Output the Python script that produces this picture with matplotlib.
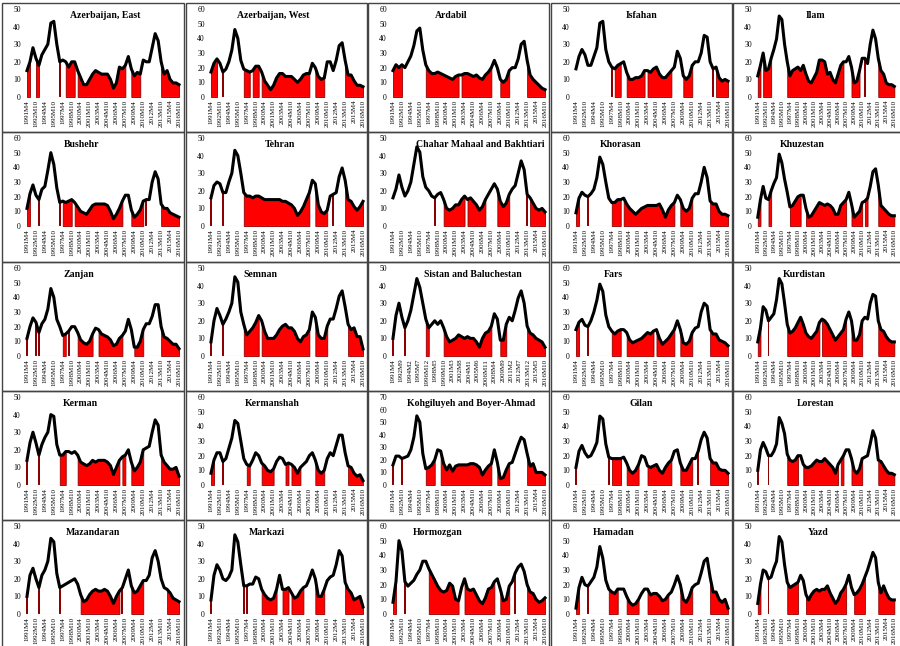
import matplotlib
matplotlib.use('Agg')
import matplotlib.pyplot as plt
from matplotlib.patches import Rectangle
import numpy as np

# half-yearly readings 1991M4, 1991M10, ... 2016M10 (52 points)
months = np.arange(52) * 6

tick_labels = ['1991M4', '1992M10', '1994M4', '1995M10', '1997M4', '1998M10',
               '2000M4', '2001M10', '2003M4', '2004M10', '2006M4', '2007M10',
               '2009M4', '2010M10', '2012M4', '2013M10', '2015M4', '2016M10']
sistan_labels = ['1991M4', '1992M9', '1994M2', '1995M7', '1996M12', '1998M5',
                 '1999M10', '2001M3', '2002M8', '2004M1', '2005M6', '2006M11',
                 '2008M4', '2009M9', '2011M2', '2012M7', '2013M12', '2015M5', '2016M10']

names = ['Azerbaijan, East', 'Azerbaijan, West', 'Ardabil', 'Isfahan', 'Ilam',
         'Bushehr', 'Tehran', 'Chahar Mahaal and Bakhtiari', 'Khorasan', 'Khuzestan',
         'Zanjan', 'Semnan', 'Sistan and Baluchestan', 'Fars', 'Kurdistan',
         'Kerman', 'Kermanshah', 'Kohgiluyeh and Boyer-Ahmad', 'Gilan', 'Lorestan',
         'Mazandaran', 'Markazi', 'Hormozgan', 'Hamadan', 'Yazd']
ytops = [50, 60, 60, 50, 50,
         60, 50, 50, 60, 60,
         60, 50, 50, 60, 50,
         50, 60, 70, 60, 60,
         50, 50, 60, 60, 50]

az_east = [15, 20, 28, 22, 18, 24, 27, 30, 42, 43, 30, 20, 21, 20, 17, 20, 20, 15, 11, 7,
           7, 10, 13, 15, 14, 13, 13, 13, 10, 5, 8, 17, 16, 18, 23, 16, 12, 14, 13, 21,
           20, 20, 28, 36, 32, 20, 13, 15, 10, 8, 8, 7]
az_west = [17, 23, 26, 23, 17, 19, 24, 32, 46, 40, 25, 19, 18, 17, 18, 21, 21, 17, 11, 8,
           5, 8, 13, 16, 16, 14, 14, 14, 12, 10, 12, 15, 16, 16, 23, 20, 14, 12, 13, 24,
           24, 18, 25, 35, 37, 25, 15, 15, 11, 8, 8, 7]
ardabil = [18, 22, 20, 22, 20, 24, 28, 35, 45, 47, 32, 22, 18, 16, 16, 17, 16, 15, 14, 13,
           12, 14, 15, 15, 16, 16, 15, 14, 15, 13, 12, 15, 17, 20, 25, 20, 12, 10, 12, 18,
           20, 20, 26, 36, 38, 25, 15, 12, 10, 8, 6, 5]
isfahan = [16, 23, 27, 24, 18, 18, 23, 28, 42, 43, 27, 20, 17, 16, 18, 19, 20, 14, 10, 10,
           11, 11, 12, 15, 15, 14, 16, 17, 13, 11, 11, 13, 15, 17, 26, 22, 12, 10, 12, 18,
           20, 20, 25, 35, 34, 20, 16, 17, 11, 9, 10, 9]
ilam = [12, 18, 25, 15, 16, 22, 27, 33, 46, 44, 30, 20, 12, 15, 16, 17, 15, 18, 13, 9,
        8, 11, 14, 21, 21, 20, 13, 14, 10, 8, 13, 18, 20, 20, 23, 17, 8, 9, 15, 22,
        22, 19, 30, 38, 33, 22, 15, 13, 8, 7, 7, 6]
bushehr = [12, 22, 28, 21, 18, 25, 27, 38, 50, 42, 26, 16, 17, 16, 17, 18, 16, 13, 10, 9,
           8, 11, 14, 15, 15, 15, 15, 14, 10, 5, 8, 12, 17, 21, 21, 11, 6, 8, 11, 17,
           18, 18, 30, 37, 32, 15, 12, 12, 9, 8, 7, 6]
tehran = [16, 23, 25, 24, 19, 19, 25, 30, 43, 40, 30, 19, 17, 17, 16, 17, 17, 16, 15, 15,
          15, 15, 15, 15, 14, 14, 13, 12, 10, 6, 8, 11, 15, 19, 26, 24, 12, 8, 7, 9,
          17, 18, 19, 28, 33, 26, 15, 14, 11, 9, 11, 14]
chahar = [16, 21, 29, 22, 17, 20, 25, 35, 45, 42, 28, 22, 20, 17, 16, 18, 19, 15, 10, 9,
          10, 12, 12, 15, 17, 15, 16, 14, 12, 9, 11, 15, 18, 21, 24, 21, 14, 11, 13, 18,
          21, 23, 30, 37, 32, 18, 16, 13, 10, 9, 10, 8]
khorasan = [9, 19, 23, 21, 20, 22, 25, 33, 47, 42, 30, 19, 16, 16, 18, 18, 19, 15, 12, 10,
            8, 10, 12, 13, 14, 14, 14, 14, 15, 11, 6, 11, 14, 16, 21, 18, 12, 10, 12, 19,
            22, 22, 30, 40, 33, 17, 15, 15, 10, 8, 8, 7]
khuzestan = [6, 18, 27, 19, 18, 24, 29, 33, 49, 43, 32, 23, 13, 14, 17, 20, 21, 21, 12, 6,
             7, 10, 13, 16, 15, 14, 15, 14, 12, 8, 8, 14, 16, 18, 23, 15, 6, 8, 10, 16,
             17, 19, 27, 37, 39, 28, 14, 12, 10, 8, 7, 7]
zanjan = [12, 20, 26, 23, 16, 22, 25, 32, 46, 40, 25, 20, 14, 15, 17, 20, 20, 16, 11, 9,
          8, 10, 15, 19, 18, 15, 14, 13, 11, 7, 8, 12, 14, 17, 25, 18, 6, 6, 10, 18,
          22, 22, 27, 35, 35, 20, 13, 12, 10, 8, 8, 5]
semnan = [8, 20, 27, 23, 18, 21, 25, 30, 45, 42, 25, 18, 12, 14, 16, 19, 23, 20, 14, 10,
          10, 10, 12, 15, 17, 18, 16, 16, 14, 10, 8, 11, 12, 15, 25, 22, 12, 10, 10, 17,
          21, 21, 27, 34, 37, 28, 18, 15, 16, 11, 11, 4]
sistan = [10, 23, 30, 22, 16, 20, 26, 35, 44, 39, 30, 21, 16, 18, 20, 18, 20, 16, 11, 8,
          9, 10, 12, 11, 10, 11, 10, 10, 8, 5, 10, 13, 14, 17, 24, 21, 9, 9, 18, 22,
          20, 26, 33, 37, 30, 17, 13, 12, 10, 9, 8, 5]
fars = [18, 23, 25, 21, 20, 24, 30, 38, 49, 44, 28, 20, 17, 15, 17, 18, 18, 16, 11, 9,
        10, 11, 12, 14, 16, 15, 17, 18, 12, 8, 10, 12, 15, 18, 24, 18, 9, 8, 10, 16,
        19, 20, 30, 36, 34, 18, 15, 15, 11, 10, 9, 7]
kurdistan = [8, 16, 28, 26, 20, 22, 24, 32, 44, 41, 30, 18, 13, 14, 16, 19, 22, 18, 13, 11,
             10, 12, 14, 19, 21, 20, 18, 15, 12, 9, 11, 13, 15, 21, 25, 20, 9, 9, 12, 20,
             22, 21, 30, 35, 34, 20, 15, 14, 11, 9, 8, 8]
kerman = [14, 24, 30, 24, 17, 23, 27, 30, 40, 39, 23, 17, 17, 19, 19, 18, 19, 17, 13, 12,
          11, 12, 14, 13, 14, 14, 14, 13, 11, 6, 10, 14, 16, 17, 20, 13, 8, 10, 13, 20,
          21, 22, 30, 37, 34, 17, 13, 11, 9, 9, 10, 5]
kermanshah = [8, 17, 22, 22, 16, 18, 25, 32, 44, 42, 30, 18, 14, 13, 17, 22, 20, 15, 13, 10,
              9, 11, 16, 19, 18, 14, 15, 14, 12, 8, 12, 14, 16, 20, 22, 17, 10, 8, 10, 18,
              22, 20, 27, 34, 34, 22, 13, 12, 8, 6, 7, 3]
kohgiluyeh = [16, 23, 23, 21, 22, 23, 28, 38, 55, 50, 25, 13, 14, 16, 20, 28, 27, 17, 12, 16,
              11, 15, 16, 16, 16, 16, 17, 17, 16, 14, 8, 12, 15, 17, 28, 18, 5, 6, 12, 17,
              18, 25, 32, 38, 36, 25, 15, 17, 10, 10, 10, 8]
gilan = [12, 23, 27, 22, 19, 20, 24, 29, 47, 45, 28, 19, 18, 18, 18, 18, 19, 15, 10, 8,
         10, 14, 20, 19, 13, 12, 13, 14, 10, 8, 12, 15, 17, 23, 24, 15, 10, 10, 14, 18,
         18, 23, 31, 36, 32, 18, 15, 15, 11, 10, 10, 8]
lorestan = [10, 24, 29, 25, 20, 20, 23, 28, 46, 42, 35, 21, 17, 16, 17, 20, 20, 14, 12, 12,
            13, 15, 17, 16, 16, 18, 16, 14, 12, 8, 14, 17, 20, 24, 24, 18, 10, 8, 11, 18,
            19, 20, 28, 37, 32, 17, 16, 13, 10, 8, 8, 7]
mazandaran = [10, 22, 26, 20, 15, 22, 25, 30, 43, 41, 23, 15, 16, 17, 18, 19, 20, 17, 11, 7,
              8, 11, 13, 14, 13, 13, 14, 13, 10, 6, 10, 13, 15, 20, 25, 16, 12, 13, 16, 19,
              19, 22, 32, 36, 30, 20, 15, 14, 12, 9, 8, 7]
markazi = [8, 22, 28, 25, 20, 19, 21, 25, 45, 41, 28, 16, 16, 17, 17, 21, 20, 14, 11, 9,
           8, 9, 14, 22, 14, 14, 15, 12, 9, 10, 13, 15, 16, 20, 25, 20, 10, 10, 14, 19,
           21, 22, 28, 36, 33, 18, 14, 12, 8, 9, 10, 4]
hormozgan = [8, 22, 50, 43, 22, 19, 21, 23, 27, 30, 36, 36, 31, 27, 23, 19, 16, 15, 16, 21,
             19, 10, 9, 18, 24, 17, 16, 17, 13, 9, 7, 11, 17, 18, 22, 24, 17, 9, 10, 19,
             22, 28, 32, 34, 29, 20, 15, 14, 10, 8, 9, 11]
hamadan = [4, 18, 25, 20, 19, 22, 25, 32, 46, 38, 23, 17, 15, 14, 17, 17, 17, 12, 8, 6,
           7, 10, 14, 17, 17, 13, 14, 14, 12, 9, 10, 13, 15, 20, 26, 20, 10, 8, 12, 18,
           20, 21, 28, 36, 38, 25, 15, 15, 10, 8, 10, 4]
yazd = [6, 17, 25, 24, 20, 21, 26, 30, 44, 41, 28, 18, 15, 16, 17, 18, 22, 19, 11, 8,
        11, 13, 14, 13, 14, 14, 16, 12, 9, 6, 8, 12, 14, 17, 22, 15, 11, 12, 14, 17,
        21, 25, 30, 35, 32, 18, 12, 16, 12, 9, 8, 8]

# red regimes as (first, last) half-year index
az_east_red = [(0, 1), (3, 4), (11, 11), (13, 16), (17, 33), (35, 38), (45, 51)]
az_west_red = [(0, 2), (4, 4), (11, 13), (14, 16), (17, 33), (35, 38), (45, 51)]
ardabil_red = [(0, 3), (11, 22), (23, 33), (36, 39), (45, 51)]
isfahan_red = [(12, 12), (13, 15), (17, 23), (24, 32), (36, 39), (46, 46), (47, 51)]
ilam_red = [(0, 1), (2, 5), (11, 32), (35, 38), (40, 40), (45, 51)]
bushehr_red = [(0, 1), (4, 4), (11, 11), (12, 15), (16, 32), (35, 39), (40, 40), (45, 51)]
tehran_red = [(0, 0), (4, 4), (11, 33), (35, 39), (41, 41), (45, 51)]
chahar_red = [(14, 14), (17, 24), (25, 31), (35, 39), (45, 45), (46, 51)]
khorasan_red = [(0, 1), (4, 4), (12, 15), (16, 33), (35, 39), (45, 51)]
khuzestan_red = [(0, 1), (4, 5), (12, 16), (18, 33), (35, 39), (40, 41), (45, 51)]
zanjan_red = [(0, 0), (3, 3), (4, 4), (12, 13), (14, 14), (17, 22), (24, 32), (36, 39), (45, 51)]
semnan_red = [(0, 0), (4, 4), (11, 16), (17, 33), (35, 39), (46, 51)]
sistan_red = [(0, 0), (4, 4), (11, 12), (17, 33), (36, 38), (45, 51)]
fars_red = [(0, 1), (4, 4), (12, 15), (17, 26), (27, 33), (35, 39), (45, 51)]
kurdistan_red = [(0, 1), (4, 4), (11, 23), (24, 33), (35, 39), (45, 51)]
kerman_red = [(0, 0), (4, 4), (11, 13), (17, 31), (32, 33), (35, 39), (45, 51)]
kermanshah_red = [(0, 1), (4, 4), (12, 13), (17, 21), (25, 26), (27, 30), (35, 38), (46, 51)]
kohgiluyeh_red = [(0, 0), (3, 3), (11, 14), (16, 33), (35, 39), (45, 51)]
gilan_red = [(0, 0), (11, 11), (12, 15), (17, 21), (24, 32), (35, 39), (41, 41), (45, 51)]
lorestan_red = [(0, 0), (4, 4), (11, 15), (17, 30), (31, 32), (35, 39), (45, 51)]
mazandaran_red = [(0, 0), (4, 4), (11, 11), (18, 31), (32, 32), (35, 39), (47, 51)]
markazi_red = [(0, 0), (11, 11), (12, 12), (17, 22), (24, 26), (27, 31), (35, 38), (45, 51)]
hormozgan_red = [(0, 1), (4, 4), (12, 22), (24, 34), (36, 39), (41, 41), (45, 51)]
hamadan_red = [(0, 1), (4, 4), (11, 14), (17, 21), (24, 31), (35, 39), (45, 51)]
yazd_red = [(0, 1), (4, 4), (11, 15), (18, 33), (36, 40), (45, 51)]

series = [az_east, az_west, ardabil, isfahan, ilam,
          bushehr, tehran, chahar, khorasan, khuzestan,
          zanjan, semnan, sistan, fars, kurdistan,
          kerman, kermanshah, kohgiluyeh, gilan, lorestan,
          mazandaran, markazi, hormozgan, hamadan, yazd]
regimes = [az_east_red, az_west_red, ardabil_red, isfahan_red, ilam_red,
           bushehr_red, tehran_red, chahar_red, khorasan_red, khuzestan_red,
           zanjan_red, semnan_red, sistan_red, fars_red, kurdistan_red,
           kerman_red, kermanshah_red, kohgiluyeh_red, gilan_red, lorestan_red,
           mazandaran_red, markazi_red, hormozgan_red, hamadan_red, yazd_red]

# layout (pixels of the 900x646 canvas)
col_x = [2, 186, 368, 551, 733]
col_w = [182, 181, 181, 181, 175]
ax_w = [157, 157, 157, 157, 141]   # last column squeezed so labels stay on the canvas
row_y = [3, 132, 262, 391, 520]
row_h = [129, 130, 129, 129, 130]
title_x = [0.51, 0.41, 0.38, 0.43, 0.42,
           0.36, 0.45, 0.57, 0.30, 0.33,
           0.34, 0.33, 0.52, 0.25, 0.34,
           0.35, 0.40, 0.51, 0.43, 0.42,
           0.43, 0.37, 0.30, 0.25, 0.44]

W, H = 900, 646
fig = plt.figure(figsize=(W / 100, H / 100), dpi=100)
fig.patch.set_facecolor('white')

serif = 'Liberation Serif'

for i in range(25):
    r, c = divmod(i, 5)
    bx, by = col_x[c], row_y[r]
    fig.patches.append(Rectangle((bx / W, 1 - (by + row_h[r]) / H), col_w[c] / W, row_h[r] / H,
                                 transform=fig.transFigure, fill=False,
                                 edgecolor='#444444', lw=1.0))
    ax = fig.add_axes([(bx + 23) / W, 1 - (by + 94) / H, ax_w[c] / W, 88 / H])
    y = np.array(series[i], dtype=float)
    for s, e in regimes[i]:
        if s == e:
            ax.bar(months[s], y[s], width=4, color='#8b0000', lw=0)
        else:
            ax.fill_between(months[s:e + 1], 0, y[s:e + 1], facecolor='#ff0000',
                            edgecolor='#900000', lw=0.6)
    ax.axhline(0, color='#c8c8c8', lw=0.8, zorder=1)
    ax.plot(months, y, color='black', lw=2.2, solid_joinstyle='round', zorder=3)
    ax.set_xlim(-4, 312)
    ax.set_ylim(0, ytops[i])
    ax.set_yticks(np.arange(0, ytops[i] + 1, 10))
    if names[i] == 'Sistan and Baluchestan':
        ax.set_xticks(np.arange(len(sistan_labels)) * 17)
        ax.set_xticklabels(sistan_labels)
    else:
        ax.set_xticks(np.arange(len(tick_labels)) * 18)
        ax.set_xticklabels(tick_labels)
    ax.tick_params(axis='x', length=0, pad=2, labelrotation=90, labelsize=5)
    ax.tick_params(axis='y', length=0, pad=3, labelsize=5.5)
    for lab in ax.get_xticklabels() + ax.get_yticklabels():
        lab.set_fontfamily(serif)
    for sp in ax.spines.values():
        sp.set_visible(False)
    ax.text(title_x[i], 0.93, names[i], transform=ax.transAxes, ha='center', va='center',
            fontsize=7, fontweight='bold', fontfamily=serif)

fig.savefig('out.png', dpi=100)
